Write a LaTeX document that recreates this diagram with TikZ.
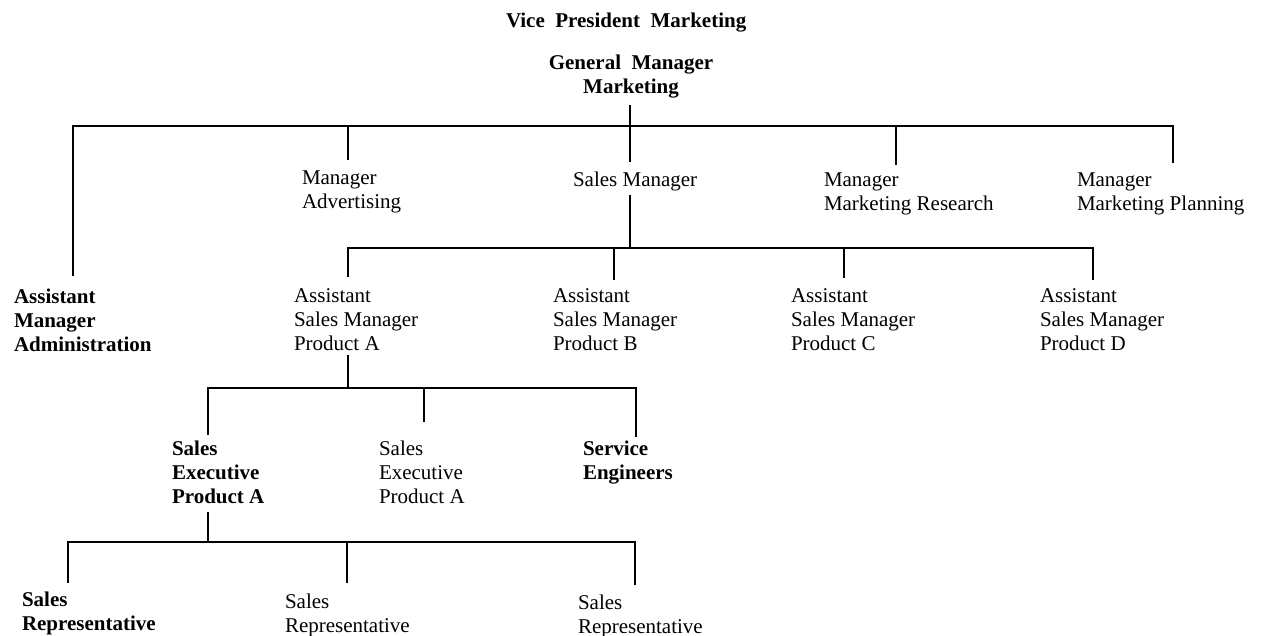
\documentclass[tikz,border=0pt]{standalone}
\usepackage{fontspec}
\setmainfont{Liberation Serif}
\newcommand\chartfs{\fontsize{10.5}{12}\selectfont}
\begin{document}
\begin{tikzpicture}[x=0.5pt,y=-0.5pt,
  lbl/.style={anchor=north west,inner sep=0pt,outer sep=0pt,align=left,font=\chartfs},
  blbl/.style={lbl,font=\chartfs\bfseries},
  ln/.style={line width=1.3pt,line join=miter}]
\useasboundingbox[fill=white] (0,0) rectangle (1266,636);
% titles
\node[blbl] (vp) at (506,13) {Vice\ \ President\ \ Marketing};
\node[blbl,anchor=north,align=center] (gm) at (631,55) {General\ \ Manager\\Marketing};
% level 1
\node[lbl] (adv) at (302,171) {Manager\\Advertising};
\node[lbl] (sm) at (573,172) {Sales Manager};
\node[lbl] (mmr) at (824,173) {Manager\\Marketing Research};
\node[lbl] (mmp) at (1077,173) {Manager\\Marketing Planning};
\node[blbl] (ama) at (14,289) {Assistant\\Manager\\Administration};
% level 2
\node[lbl] (asa) at (294,289) {Assistant\\Sales Manager\\Product A};
\node[lbl] (asb) at (553,289) {Assistant\\Sales Manager\\Product B};
\node[lbl] (asc) at (791,289) {Assistant\\Sales Manager\\Product C};
\node[lbl] (asd) at (1040,289) {Assistant\\Sales Manager\\Product D};
% level 3
\node[blbl] (se1) at (172,441) {Sales\\Executive\\Product A};
\node[lbl] (se2) at (379,441) {Sales\\Executive\\Product A};
\node[blbl] (seng) at (583,441) {Service\\Engineers};
% level 4
\node[blbl] (sr1) at (22,592) {Sales\\Representative};
\node[lbl] (sr2) at (285,594) {Sales\\Representative};
\node[lbl] (sr3) at (578,595) {Sales\\Representative};
% buses
\coordinate (bus1) at (0,126);
\coordinate (bus2) at (0,248);
\coordinate (bus3) at (0,388);
\coordinate (bus4) at (0,542);
% connector ends
\coordinate (gmB) at (630,105);
\coordinate (smT) at (630,162);
\coordinate (smB) at (630,195);
\coordinate (advT) at (348,160);
\coordinate (mmrT) at (896,165);
\coordinate (mmpT) at (1173,163);
\coordinate (amaT) at (73,276);
\coordinate (asaT) at (348,277);
\coordinate (asaB) at (348,355);
\coordinate (asbT) at (614,280);
\coordinate (ascT) at (844,278);
\coordinate (asdT) at (1093,280);
\coordinate (se1T) at (208,435);
\coordinate (se1B) at (208,512);
\coordinate (se2T) at (424,422);
\coordinate (sengT) at (636,437);
\coordinate (sr1T) at (68,583);
\coordinate (sr2T) at (347,583);
\coordinate (sr3T) at (635,585);
% level 0 -> 1
\draw[ln] (gmB) -- (smT);
\draw[ln] (amaT) -- (amaT |- bus1) -- (mmpT |- bus1) -- (mmpT);
\draw[ln] (advT) -- (advT |- bus1);
\draw[ln] (mmrT) -- (mmrT |- bus1);
% sales manager -> assistants
\draw[ln] (smB) -- (smB |- bus2);
\draw[ln] (asaT) -- (asaT |- bus2) -- (asdT |- bus2) -- (asdT);
\draw[ln] (asbT) -- (asbT |- bus2);
\draw[ln] (ascT) -- (ascT |- bus2);
% assistant A -> executives
\draw[ln] (asaB) -- (asaB |- bus3);
\draw[ln] (se1T) -- (se1T |- bus3) -- (sengT |- bus3) -- (sengT);
\draw[ln] (se2T) -- (se2T |- bus3);
% executive -> representatives
\draw[ln] (se1B) -- (se1B |- bus4);
\draw[ln] (sr1T) -- (sr1T |- bus4) -- (sr3T |- bus4) -- (sr3T);
\draw[ln] (sr2T) -- (sr2T |- bus4);
\end{tikzpicture}
\end{document}
